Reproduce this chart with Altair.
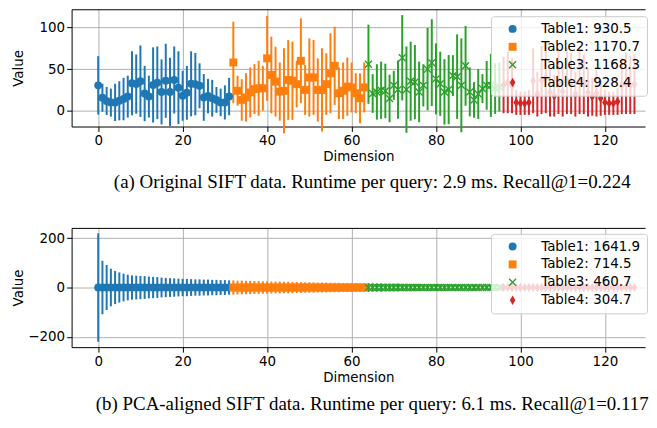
import altair as alt
import pandas as pd

# ---------------- data ----------------
dims_t1 = list(range(0, 32))
dims_t2 = list(range(32, 64))
dims_t3 = list(range(64, 96))
dims_t4 = list(range(96, 128))

top_labels = ["Table1: 930.5", "Table2: 1170.7", "Table3: 1168.3", "Table4: 928.4"]
pca_labels = ["Table1: 1641.9", "Table2: 714.5", "Table3: 460.7", "Table4: 304.7"]

# (a) Original SIFT data: mean and std per dimension
orig_mean_t1 = [30.5, 15.6, 11.7, 9.8, 10.0, 12.0, 14.0, 17.0, 33.0, 32.0, 35.5, 20.7, 17.0, 31.0, 33.6, 22.6,
                36.0, 22.6, 37.0, 27.7, 18.0, 21.5, 32.4, 32.0, 30.0, 16.0, 17.6, 15.0, 13.0, 10.0, 10.0, 17.0]
orig_err_t1 = [35.1, 16.8, 16.8, 16.8, 22.4, 23.5, 25.5, 25.2, 38.5, 35.6, 43.0, 33.2, 25.2, 45.2, 43.7, 39.1,
               44.5, 41.1, 40.3, 43.8, 30.0, 32.4, 39.1, 37.5, 27.0, 28.1, 20.7, 22.1, 15.5, 16.6, 20.5, 22.5]
orig_mean_t2 = [58, 24, 13, 16, 22, 26, 27, 27, 63, 43, 35, 23, 24, 37, 36, 32,
                60, 25, 40, 40, 25, 25, 32, 45, 54, 21, 24, 29, 28, 21, 15, 28]
orig_err_t2 = [49, 18, 25, 29, 30, 30, 33, 27, 51, 46, 42, 35, 51, 48, 47, 28,
               51, 30, 47, 45, 38, 50, 37, 48, 47, 31, 34, 35, 30, 24, 30, 30]
orig_mean_t3 = [55.9, 20.7, 22.6, 24.6, 23.8, 14.8, 30.5, 25.4, 63.7, 25.4, 35.5, 34.4, 22.6, 30.5, 50.0, 57.8,
                38.3, 32.4, 22.6, 25.4, 42.2, 41.0, 30.5, 54.0, 22.6, 13.0, 20.0, 26.6, 30.5, 30.5, 26.6, 28.5]
orig_err_t3 = [47.6, 23.3, 33.3, 34.4, 32.8, 28.6, 17.5, 35.1, 51.3, 51.9, 47.5, 44.6, 36.4, 25.4, 49.6, 52.2,
               42.7, 38.6, 39.4, 41.6, 24.6, 50.8, 56.5, 48.0, 29.4, 21.4, 30.0, 17.4, 29.3, 37.9, 30.4, 29.5]
orig_mean_t4 = [31, 34, 30, 10, 9, 9, 10, 36, 20, 37, 40, 22, 18, 34, 23, 36,
                33, 20, 35, 32, 22, 17, 21, 15, 10, 9, 9, 11, 30, 33, 31, 32]
orig_err_t4 = [34, 37, 33, 15, 14, 14, 15, 39, 27, 41, 43, 29, 25, 38, 30, 40,
               37, 27, 39, 36, 29, 23, 28, 21, 15, 14, 14, 16, 34, 37, 35, 36]

# (b) PCA-aligned SIFT data: mean and std per dimension
pca_mean_t1 = [0, 0, 0, 0, 0, 0, 0, 0, 0, 0, 0, 0, 0, 0, 0, 0, 0, 0, 0, 0, 0, 0, 0, 0, 0, 0, 0, 0, 0, 0, 0, 0]
pca_err_t1 = [219, 108, 91, 76, 67, 61, 56, 52, 49, 48, 47, 46, 44, 43, 42, 40,
              39, 38, 37, 36, 35, 35, 34, 33, 33, 32, 32, 31, 31, 30, 30, 29]
pca_mean_t2 = [0, 0, 0, 0, 0, 0, 0, 0, 0, 0, 0, 0, 0, 0, 0, 0, 0, 0, 0, 0, 0, 0, 0, 0, 0, 0, 0, 0, 0, 0, 0, 0]
pca_err_t2 = [29, 28, 28, 27, 27, 26, 26, 25, 25, 24, 24, 24, 23, 23, 22, 22,
              22, 21, 21, 21, 20, 20, 20, 19, 19, 19, 18, 18, 18, 18, 17, 17]
pca_mean_t3 = [0, 0, 0, 0, 0, 0, 0, 0, 0, 0, 0, 0, 0, 0, 0, 0, 0, 0, 0, 0, 0, 0, 0, 0, 0, 0, 0, 0, 0, 0, 0, 0]
pca_err_t3 = [18, 17, 17, 17, 16, 16, 16, 16, 15, 15, 15, 15, 15, 14, 14, 14,
              14, 14, 14, 14, 13, 13, 13, 13, 13, 13, 13, 12, 12, 12, 12, 12]
pca_mean_t4 = [0, 0, 0, 0, 0, 0, 0, 0, 0, 0, 0, 0, 0, 0, 0, 0, 0, 0, 0, 0, 0, 0, 0, 0, 0, 0, 0, 0, 0, 0, 0, 0]
pca_err_t4 = [11, 11, 11, 10, 10, 10, 10, 10, 10, 10, 10, 10, 10, 9, 9, 9,
              9, 9, 9, 9, 9, 9, 9, 9, 9, 9, 9, 9, 9, 9, 8, 8]

x_ticks = [0, 20, 40, 60, 80, 100, 120]
orig_y_ticks = [0, 50, 100]
pca_y_ticks = [-200, 0, 200]

caption_a = "(a) Original SIFT data. Runtime per query: 2.9 ms. Recall@1=0.224"
caption_b = "(b) PCA-aligned SIFT data. Runtime per query: 6.1 ms. Recall@1=0.117"

# ---------------- styling ----------------
colors = ["#1f77b4", "#ff7f0e", "#2ca02c", "#d62728"]
x_shape = "M-1,-0.75L-0.75,-1L0,-0.25L0.75,-1L1,-0.75L0.25,0L1,0.75L0.75,1L0,0.25L-0.75,1L-1,0.75L-0.25,0Z"
d_shape = "M0,-1.2L0.7,0L0,1.2L-0.7,0Z"
shapes = ["circle", "square", x_shape, d_shape]


def build(dims_list, means, errs, labels):
    rows = []
    for dims, m, e, lab in zip(dims_list, means, errs, labels):
        for d, mv, ev in zip(dims, m, e):
            rows.append({"dim": d, "mean": mv, "lo": mv - ev, "hi": mv + ev, "label": lab})
    return pd.DataFrame(rows)


dims_all = [dims_t1, dims_t2, dims_t3, dims_t4]
df_a = build(dims_all, [orig_mean_t1, orig_mean_t2, orig_mean_t3, orig_mean_t4],
             [orig_err_t1, orig_err_t2, orig_err_t3, orig_err_t4], top_labels)
df_b = build(dims_all, [pca_mean_t1, pca_mean_t2, pca_mean_t3, pca_mean_t4],
             [pca_err_t1, pca_err_t2, pca_err_t3, pca_err_t4], pca_labels)

W = 577
X_DOMAIN = [-6.3, 129.5]


def panel(df, labels, ydom, yticks, caption, height, legend_y, cap_offset):
    xscale = alt.Scale(domain=X_DOMAIN, nice=False, zero=False)
    yscale = alt.Scale(domain=ydom, nice=False, zero=False)
    yaxis = alt.Axis(values=yticks, title="Value", titleX=-46, orient="left")
    legend = alt.Legend(
        title=None, orient="none", legendX=422, legendY=legend_y,
        fillColor="rgba(255,255,255,0.8)", strokeColor="#cccccc", cornerRadius=3,
        padding=6, rowPadding=3, symbolOffset=9, labelOffset=22,
        labelFont="DejaVu Sans", labelFontSize=13.5, labelColor="black",
        symbolSize=64, symbolStrokeWidth=0, labelLimit=300,
    )
    cscale = alt.Scale(domain=labels, range=colors)
    rules = alt.Chart(df).mark_rule(strokeWidth=2).encode(
        x=alt.X("dim:Q", scale=xscale,
                axis=alt.Axis(values=x_ticks, title="Dimension", orient="bottom")),
        y=alt.Y("lo:Q", scale=yscale, axis=yaxis),
        y2="hi:Q",
        color=alt.Color("label:N", scale=cscale, legend=legend),
    )
    points = alt.Chart(df).mark_point(filled=True, opacity=1, size=64).encode(
        x=alt.X("dim:Q", scale=xscale,
                axis=alt.Axis(orient="top", labels=False, ticks=False, grid=False,
                              domain=True, title=None)),
        y=alt.Y("mean:Q", scale=yscale, axis=yaxis),
        color=alt.Color("label:N", scale=cscale, legend=legend),
        shape=alt.Shape("label:N", scale=alt.Scale(domain=labels, range=shapes), legend=legend),
    )
    return alt.layer(rules, points).resolve_axis(x="independent", y="shared").properties(
        width=W, height=height,
        title=alt.TitleParams(caption, orient="bottom", frame="group", anchor="middle",
                              font="Liberation Serif", fontSize=19, fontWeight="normal",
                              color="black", dx=14, offset=cap_offset),
    )


top = panel(df_a, top_labels, [-19, 122], orig_y_ticks, caption_a, 118, 7, 10)
bottom = panel(df_b, pca_labels, [-241, 241], pca_y_ticks, caption_b, 120, 6, 11)

chart = alt.vconcat(top, bottom, spacing=36).resolve_scale(
    color="independent", shape="independent"
).properties(
    padding={"left": 3, "top": 0, "right": 0, "bottom": 0}
).configure_view(stroke=None).configure_axis(
    labelFont="DejaVu Sans", labelFontSize=13.5, labelColor="black",
    titleFont="DejaVu Sans", titleFontSize=13.5, titleFontWeight="normal", titleColor="black",
    gridColor="#b0b0b0", gridWidth=1, domainColor="black", domainWidth=1,
    tickColor="black", tickSize=5, labelPadding=2, titlePadding=3,
)

chart.save("out.html", embed_options={"renderer": "svg", "actions": False})
